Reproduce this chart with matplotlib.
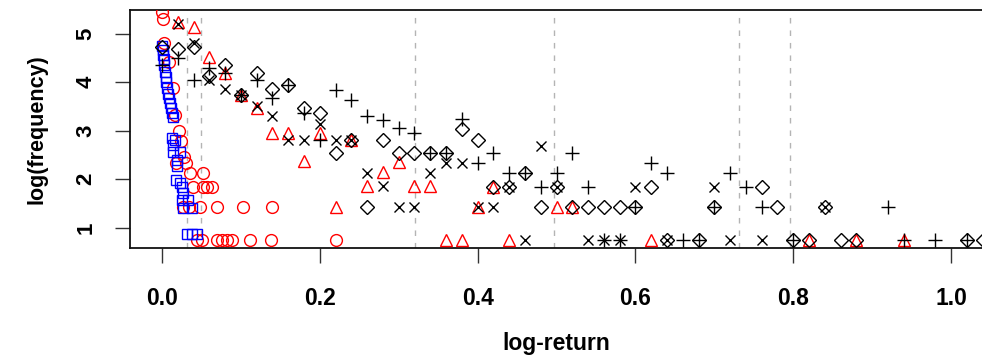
import matplotlib
matplotlib.use("Agg")
import matplotlib.pyplot as plt

plt.rcParams['font.family'] = ['Liberation Sans', 'DejaVu Sans']

# red circles
circ_x = [0.000, 0.0013, 0.0025, 0.0089, 0.0139, 0.0165, 0.0215, 0.0241, 0.0279, 0.0177, 0.0304,
          0.0355, 0.0520, 0.0393, 0.0520, 0.0570, 0.0634, 0.0266, 0.0342, 0.0482, 0.0697, 0.1027,
          0.1394, 0.0444, 0.0507, 0.0697, 0.0760, 0.0824, 0.0887, 0.1115, 0.1381, 0.2205]
circ_y = [5.45, 5.30, 4.81, 4.42, 3.88, 3.32, 2.99, 2.79, 2.46, 2.33, 2.33,
          2.13, 2.13, 1.84, 1.84, 1.84, 1.84, 1.43, 1.43, 1.43, 1.43, 1.43,
          1.43, 0.75, 0.75, 0.75, 0.75, 0.75, 0.75, 0.75, 0.75, 0.75]

# blue squares
sq_x = [0.0000, 0.0006, 0.0013, 0.0019, 0.0025, 0.0038, 0.0044, 0.0051, 0.0063, 0.0076, 0.0089,
        0.0101, 0.0114, 0.0127, 0.0139, 0.0127, 0.0165, 0.0139, 0.0139, 0.0228, 0.0190, 0.0190,
        0.0177, 0.0228, 0.0253, 0.0266, 0.0253, 0.0330, 0.0266, 0.0380, 0.0317, 0.0380, 0.0444]
sq_y = [4.75, 4.66, 4.56, 4.48, 4.36, 4.21, 4.11, 4.00, 3.88, 3.76, 3.67,
        3.57, 3.47, 3.37, 3.28, 2.85, 2.81, 2.71, 2.56, 2.56, 2.40, 2.27,
        1.98, 1.92, 1.84, 1.72, 1.57, 1.57, 1.41, 1.41, 0.87, 0.87, 0.87]

# red triangles
tri_x = [0.02, 0.04, 0.06, 0.08, 0.10, 0.12, 0.14, 0.16, 0.18, 0.20, 0.22, 0.24, 0.26, 0.28,
         0.30, 0.32, 0.34, 0.36, 0.38, 0.40, 0.42, 0.44, 0.50, 0.52, 0.62, 0.82, 0.88, 0.94]
tri_y = [5.25, 5.14, 4.53, 4.18, 3.74, 3.46, 2.96, 2.96, 2.37, 2.96, 1.43, 2.81, 1.86, 2.15,
         2.36, 1.86, 1.86, 0.75, 0.75, 1.43, 1.83, 0.75, 1.43, 1.43, 0.75, 0.75, 0.75, 0.75]

# black crosses
x_x = [0.02, 0.04, 0.06, 0.08, 0.10, 0.12, 0.14, 0.16, 0.18, 0.20, 0.22, 0.24, 0.26, 0.28,
       0.30, 0.32, 0.34, 0.36, 0.38, 0.40, 0.42, 0.44, 0.46, 0.48, 0.50, 0.54, 0.56, 0.58,
       0.60, 0.64, 0.70, 0.72, 0.76, 0.84]
x_y = [5.21, 4.80, 4.05, 3.87, 3.74, 3.51, 3.30, 2.81, 2.81, 3.14, 2.81, 2.81, 2.13, 1.86,
       1.43, 1.43, 2.13, 2.34, 2.34, 1.43, 1.43, 1.83, 0.75, 2.68, 1.83, 0.75, 0.75, 0.75,
       1.83, 0.75, 1.83, 0.75, 0.75, 1.43]

# black plus
p_x = [0.00, 0.02, 0.04, 0.06, 0.08, 0.10, 0.12, 0.14, 0.16, 0.18, 0.20, 0.22, 0.24, 0.26,
       0.28, 0.30, 0.32, 0.34, 0.36, 0.38, 0.40, 0.42, 0.44, 0.46, 0.48, 0.50, 0.52, 0.54,
       0.56, 0.58, 0.60, 0.62, 0.64, 0.66, 0.68, 0.70, 0.72, 0.74, 0.76, 0.80, 0.92, 0.94,
       0.98, 1.02]
p_y = [4.35, 4.49, 4.05, 4.29, 4.20, 3.74, 4.05, 3.67, 3.94, 3.37, 2.81, 3.84, 3.63, 3.30,
       3.22, 3.05, 2.95, 2.53, 2.53, 3.24, 2.34, 2.53, 2.13, 2.13, 1.83, 2.13, 2.53, 1.83,
       0.75, 0.75, 1.43, 2.34, 2.13, 0.75, 0.75, 1.43, 2.13, 1.83, 1.43, 0.75, 1.43, 0.75,
       0.75, 0.75]

# black diamonds
d_x = [0.00, 0.02, 0.04, 0.06, 0.08, 0.10, 0.12, 0.14, 0.16, 0.18, 0.20, 0.22, 0.24, 0.26,
       0.28, 0.30, 0.32, 0.34, 0.36, 0.38, 0.40, 0.42, 0.44, 0.46, 0.48, 0.50, 0.52, 0.54,
       0.56, 0.58, 0.60, 0.62, 0.64, 0.68, 0.70, 0.76, 0.78, 0.80, 0.82, 0.84, 0.86, 0.88,
       1.02, 1.04]
d_y = [4.73, 4.68, 4.73, 4.13, 4.35, 3.74, 4.20, 3.87, 3.94, 3.46, 3.37, 2.53, 2.81, 1.43,
       2.81, 2.53, 2.53, 2.53, 2.53, 3.03, 2.81, 1.83, 1.83, 2.13, 1.43, 1.83, 1.43, 1.43,
       1.43, 1.43, 1.43, 1.83, 0.75, 0.75, 1.43, 1.83, 1.43, 0.75, 0.75, 1.43, 0.75, 0.75,
       0.75, 0.75]

# dashed reference lines
vlines = [0.0317, 0.0494, 0.3207, 0.4968, 0.7313, 0.7959]

xticks = [0.0, 0.2, 0.4, 0.6, 0.8, 1.0]
yticks = [1, 2, 3, 4, 5]


def main():
    fig = plt.figure(figsize=(9.82, 3.61), dpi=100)
    ax = fig.add_axes([130 / 982, 113 / 361, 852 / 982, 238 / 361])

    for v in vlines:
        ax.axvline(v, color='#b4b4b4', lw=1.0, ls=(0, (4, 5)), zorder=1)

    kw = dict(ls='none', mfc='none', mew=1.0, zorder=3)
    ax.plot(circ_x, circ_y, marker='o', ms=8.5, mec='red', **kw)
    ax.plot(sq_x, sq_y, marker='s', ms=7.5, mec='blue', **kw)
    ax.plot(tri_x, tri_y, marker='^', ms=9, mec='red', **kw)
    ax.plot(x_x, x_y, marker='x', ms=7.5, mec='black', **kw)
    ax.plot(p_x, p_y, marker='+', ms=10, mec='black', **kw)
    ax.plot(d_x, d_y, marker='D', ms=7, mec='black', **kw)

    ax.set_xlim(-0.0406, 1.0393)
    ax.set_ylim(0.581, 5.489)
    ax.set_xticks(xticks)
    ax.set_xticklabels(['%.1f' % t for t in xticks])
    ax.set_yticks(yticks)
    ax.set_yticklabels([str(t) for t in yticks], rotation=90, va='center')

    ax.spines['right'].set_visible(False)
    for s in ['left', 'bottom', 'top']:
        ax.spines[s].set_linewidth(1.3)
        ax.spines[s].set_color('#111111')

    ax.tick_params(axis='both', length=11, width=1.0, color='#333333')
    ax.tick_params(axis='x', pad=17, labelsize=16.5)
    ax.tick_params(axis='y', pad=13, labelsize=16)
    for lab in ax.get_xticklabels() + ax.get_yticklabels():
        lab.set_fontweight('bold')

    ax.set_xlabel('log-return', fontsize=16.5, fontweight='bold', labelpad=16)
    ax.set_ylabel('log(frequency)', fontsize=15.5, fontweight='bold', labelpad=20)

    fig.savefig('out.png', dpi=100)


if __name__ == "__main__":
    main()
